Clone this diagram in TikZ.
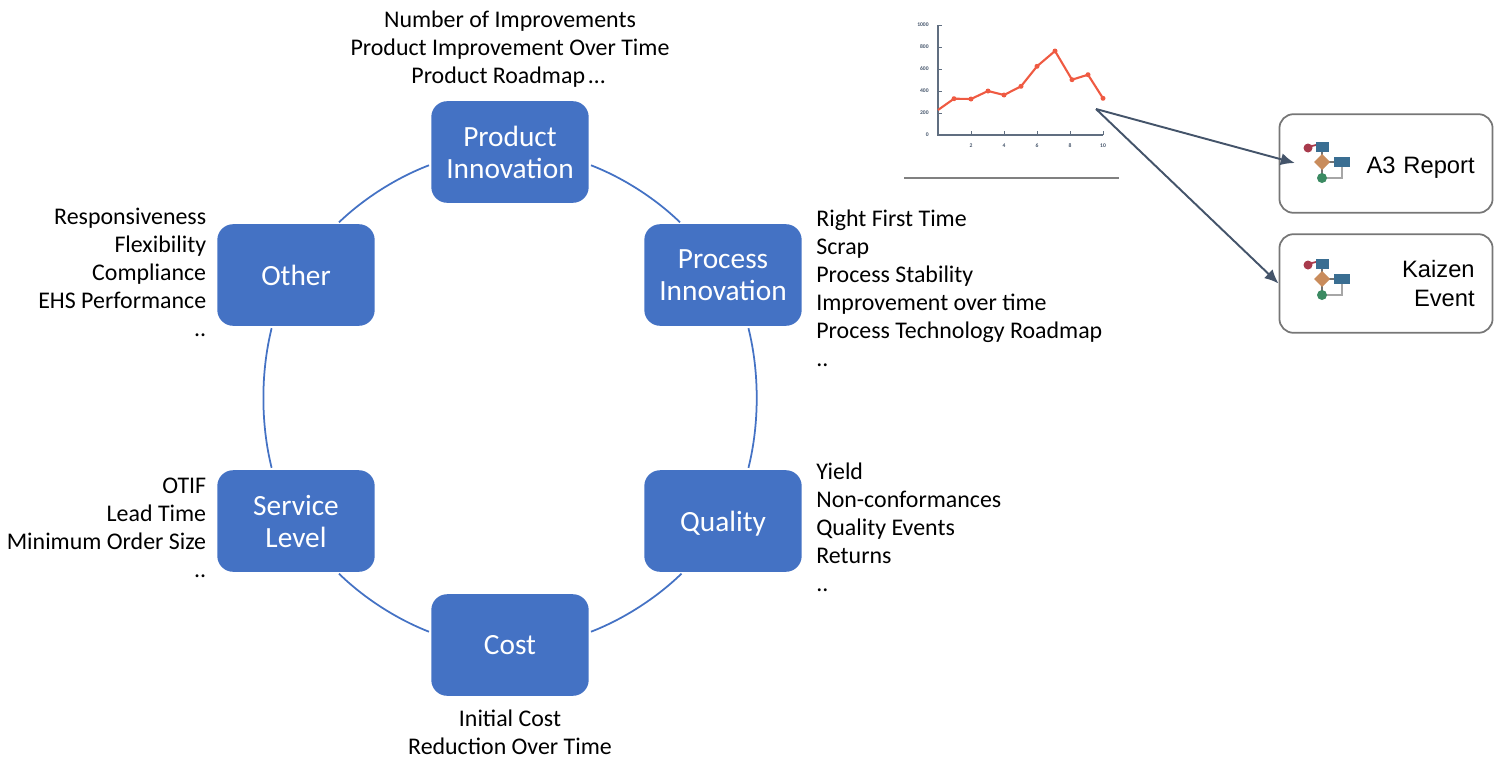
\documentclass[tikz,border=0pt]{standalone}
\usepackage{fontspec}
\usepackage{xcolor}
\setmainfont{Carlito}
\newfontfamily\arialfont{Liberation Sans}
\definecolor{kpiblue}{HTML}{4472C4}
\definecolor{slate}{HTML}{44546A}
\definecolor{chartred}{HTML}{EF5A42}
\definecolor{boxgray}{HTML}{767676}
\definecolor{iconblue}{HTML}{3A6E92}
\definecolor{iconorange}{HTML}{C98C5C}
\definecolor{iconred}{HTML}{A83A4C}
\definecolor{icongreen}{HTML}{3B8A62}
\usetikzlibrary{arrows.meta}

\begin{document}
\begin{tikzpicture}[x=0.02cm,y=-0.02cm,
kpi/.style={rectangle,rounded corners=9pt,fill=kpiblue,text=white,align=center,text depth=0pt,
    minimum width=158*0.5669pt,minimum height=102*0.5669pt,inner sep=0pt,
    font=\fontsize{16.7}{18.14}\selectfont},
ring/.style={draw=kpiblue,line width=1pt,shorten <=1.2pt,shorten >=1.2pt,bend left=#1,looseness=.85},
metrics/.style={inner sep=0pt,font=\fontsize{13.6}{15.87}\selectfont},
report/.style={rectangle,rounded corners=8pt,draw=boxgray,line width=1pt,align=right,
    minimum width=214*0.5669pt,minimum height=99*0.5669pt,inner xsep=18*0.5669pt,
    text width=178*0.5669pt,font=\arialfont\fontsize{13.5}{16.2}\selectfont},
iconbox/.style={rectangle,minimum width=60*0.5669pt,minimum height=53*0.5669pt,inner sep=0pt},
link/.style={draw=slate,line width=1.1pt,-{Latex[length=8pt,width=7pt]}},
tick/.style={inner sep=0pt,text=slate,font=\fontsize{3.2}{4}\selectfont\bfseries},
flowicon/.pic={
    \draw[gray!70,line width=1pt] (-3,15) -- (17,15) -- (17,3);
    \draw[black!55,line width=0.6pt] (-3,-16) -- (-3,15);
    \draw[black!55,line width=0.6pt] (-3,-1) -- (16,-1);
    \draw[iconred,line width=1pt] (-17,-16) -- (-9,-18);
    \fill[iconred] (-17,-15) circle (4.5);
    \fill[iconblue] (-9.5,-21) rectangle (3.5,-11);
    \fill[iconorange] (-3,-9) -- (5,-1) -- (-3,7) -- (-11,-1) -- cycle;
    \fill[iconblue] (9,-6) rectangle (25,4);
    \fill[icongreen] (-3,15) circle (5);
}]
\useasboundingbox (0,0) rectangle (1498,778);

\node[kpi] (product) at (510,152) {Product\\Innovation};
\node[kpi] (process) at (723,275) {Process\\Innovation};
\node[kpi] (quality) at (723,521) {Quality};
\node[kpi] (cost) at (510,645) {Cost};
\node[kpi] (service) at (296,521) {Service\\Level};
\node[kpi] (other) at (296,275) {Other};

\draw[ring=11.5] (product.-9) to (process.129);
\draw[ring=14] (process.-64.8) to (quality.64.8);
\draw[ring=11.5] (quality.-128.8) to (cost.9);
\draw[ring=11.5] (cost.171) to (service.-51);
\draw[ring=14] (service.115.2) to (other.-115.2);
\draw[ring=11.5] (other.51) to (product.189);

\node[metrics,align=center,anchor=base] (producttext) at (510,83) {Number of Improvements\\Product Improvement Over Time\\Product Roadmap\kern2pt\dots\kern2pt};
\node[metrics,align=left,anchor=base west] (processtext) at (816,366) {Right First Time\\Scrap\\Process Stability\\Improvement over time\\Process Technology Roadmap\\..};
\node[metrics,align=left,anchor=base west] (qualitytext) at (816,591) {Yield\\Non-conformances\\Quality Events\\Returns\\..};
\node[metrics,align=center,anchor=base] (costtext) at (510,754) {Initial Cost\\Reduction Over Time};
\node[metrics,align=right,anchor=base east] (servicetext) at (206.5,577) {OTIF\\Lead Time\\Minimum Order Size\\..};
\node[metrics,align=right,anchor=base east] (othertext) at (206.5,336) {Responsiveness\\Flexibility\\Compliance\\EHS Performance\\..};

\draw[slate!85,line width=0.8pt] (938,25) -- (938,135) -- (1103,135);
\foreach \y/\v in {25/1000,47/800,69/600,91/400,113/200,135/0}{
    \draw[slate!85,line width=0.4pt] (938,\y) -- (942,\y);
    \node[tick,anchor=east] (y\v) at (929,\y) {\v};
}
\foreach \x/\v in {971/2,1004/4,1037/6,1070/8,1103/10}{
    \draw[slate!85,line width=0.4pt] (\x,135) -- (\x,131);
    \node[tick] (x\v) at (\x,146) {\v};
}
\draw[chartred,line width=1.2pt] (938,110) -- (954,98.7) -- (971,99) -- (988,91) -- (1004,95) -- (1021,86.3) -- (1037,66.3) -- (1055,51) -- (1072,79.7) -- (1088,74.7) -- (1103,98.3);
\foreach \x/\y in {954/98.7,971/99,988/91,1004/95,1021/86.3,1037/66.3,1055/51,1072/79.7,1088/74.7,1103/98.3}{
    \fill[chartred] (\x,\y) circle (2.5);
}
\draw[gray,line width=0.6pt] (904,178) -- (1119,178);

\node[report] (a3) at (1386,163.5) {\raisebox{-2.2pt}[10pt][3pt]{A3 Report}};
\node[report] (kaizen) at (1386,283.5) {Kaizen\\Event};
\node[iconbox] (a3icon) at (1325,163) {};
\node[iconbox] (kaizenicon) at (1325,280) {};
\pic at (a3icon) {flowicon};
\pic at (kaizenicon) {flowicon};

\coordinate (chartend) at (1096,109);
\draw[link] (chartend) -- (a3icon.west);
\draw[link] (chartend) -- (kaizen.west);
\end{tikzpicture}
\end{document}
